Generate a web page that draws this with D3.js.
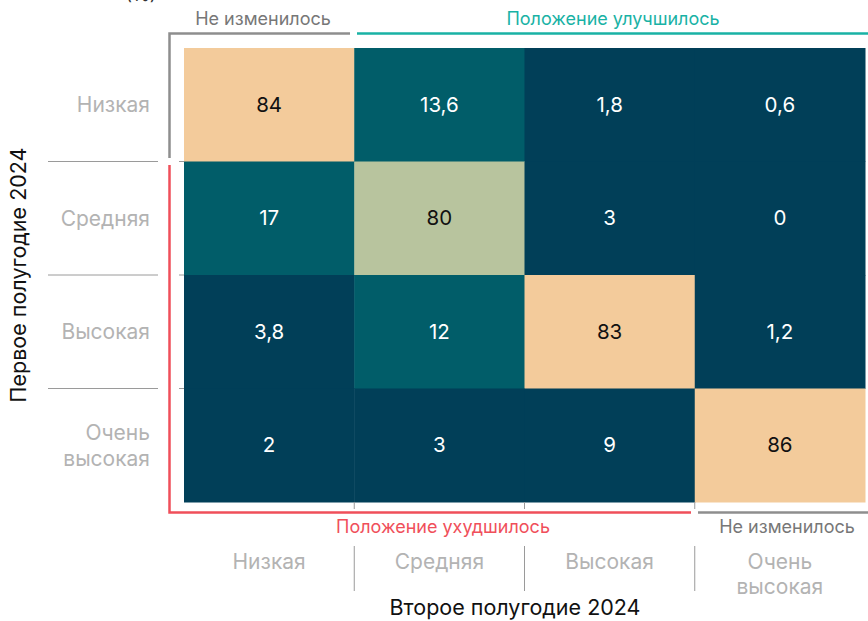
<!DOCTYPE html>
<html><head><meta charset="utf-8">
<script src="https://cdn.jsdelivr.net/npm/d3@7"></script>
<style>
body{margin:0;background:#fff;}
svg{display:block;font-family:Inter,"Noto Sans",sans-serif;}
</style></head>
<body><svg id="c" width="868" height="621"></svg>
<script>
const rows = ["Низкая","Средняя","Высокая","Очень высокая"];
const cols = ["Низкая","Средняя","Высокая","Очень высокая"];
const values = [
  [84, 13.6, 1.8, 0.6],
  [17, 80, 3, 0],
  [3.8, 12, 83, 1.2],
  [2, 3, 9, 86]
];
const xTitle = "Второе полугодие 2024";
const yTitle = "Первое полугодие 2024";
const unitLabel = "(%)";

const svg = d3.select("#c");
const x = d3.scaleBand().domain(cols).range([184, 865]);
const y = d3.scaleBand().domain(rows).range([48, 502]);
const color = d3.scaleThreshold().domain([10, 50, 82]).range(["#013f58", "#015d69", "#b8c49e", "#f3cb9b"]);
const fmt = v => String(v).replace(".", ",");

const cells = [];
rows.forEach((r, i) => cols.forEach((c, j) => cells.push({r, c, v: values[i][j]})));

svg.append("text").attr("x", 141).attr("y", 1).attr("font-size", 18).attr("fill", "#333").attr("text-anchor","middle").text(unitLabel);

svg.selectAll("rect.cell").data(cells).join("rect").attr("class","cell")
  .attr("x", d => x(d.c)).attr("y", d => y(d.r))
  .attr("width", x.bandwidth() + 0.5).attr("height", y.bandwidth() + 0.5)
  .attr("fill", d => color(d.v));

svg.selectAll("text.val").data(cells).join("text").attr("class","val")
  .attr("x", d => x(d.c) + x.bandwidth()/2).attr("y", d => y(d.r) + y.bandwidth()/2)
  .attr("dy", "0.35em").attr("text-anchor", "middle").attr("font-size", 20.5)
  .attr("fill", d => d.v >= 50 ? "#111" : "#fff").text(d => fmt(d.v));

// row separators (left)
const gridC = "#9a9a9a";
rows.slice(1).forEach(r => {
  svg.append("line").attr("x1", 48).attr("x2", 158).attr("y1", y(r)).attr("y2", y(r)).attr("stroke", gridC).attr("stroke-width", 1);
  svg.append("line").attr("x1", 179).attr("x2", 184).attr("y1", y(r)).attr("y2", y(r)).attr("stroke", gridC).attr("stroke-width", 1);
});
// column separators (bottom)
cols.slice(1).forEach(c => {
  svg.append("line").attr("x1", x(c)).attr("x2", x(c)).attr("y1", 502).attr("y2", 509).attr("stroke", gridC).attr("stroke-width", 1);
  svg.append("line").attr("x1", x(c)).attr("x2", x(c)).attr("y1", 546).attr("y2", 591).attr("stroke", gridC).attr("stroke-width", 1);
});

// row labels
const lblC = "#b3b3b3";
rows.forEach(r => {
  const parts = r.split(" ");
  const cy = y(r) + y.bandwidth()/2;
  const t = svg.append("text").attr("x", 150).attr("text-anchor","end").attr("font-size", 21).attr("fill", lblC);
  parts.forEach((p, k) => t.append("tspan").attr("x", 150)
    .attr("y", cy + (k - (parts.length-1)/2) * 26).attr("dy","0.35em").text(p));
});
// column labels
cols.forEach(c => {
  const parts = c.split(" ");
  const t = svg.append("text").attr("text-anchor","middle").attr("font-size", 21).attr("fill", lblC);
  parts.forEach((p, k) => t.append("tspan").attr("x", x(c) + x.bandwidth()/2)
    .attr("y", 562 + k*25).attr("dy","0.35em").text(p));
});

// axis titles
svg.append("text").attr("x", 515).attr("y", 607).attr("dy","0.35em")
  .attr("text-anchor","middle").attr("font-size", 21.5).attr("fill","#111").text(xTitle);
svg.append("text").attr("transform","translate(18,275) rotate(-90)").attr("dy","0.35em")
  .attr("text-anchor","middle").attr("font-size", 21.5).attr("fill","#111").text(yTitle);

// brackets
const grayB = "#8e8e8e", tealB = "#19b2a5", redB = "#f04f5a";
svg.append("path").attr("d", `M169.5,158 V33.5 H350`).attr("fill","none").attr("stroke", grayB).attr("stroke-width", 2.5);
svg.append("line").attr("x1", 357).attr("x2", 868).attr("y1", 33.5).attr("y2", 33.5).attr("stroke", tealB).attr("stroke-width", 2.5);
svg.append("path").attr("d", `M169.5,165 V512.5 H691`).attr("fill","none").attr("stroke", redB).attr("stroke-width", 2.5);
svg.append("line").attr("x1", 698).attr("x2", 868).attr("y1", 512.5).attr("y2", 512.5).attr("stroke", grayB).attr("stroke-width", 2.5);

svg.append("text").attr("x", 263).attr("y", 19).attr("dy","0.35em").attr("text-anchor","middle").attr("font-size", 18).attr("fill","#777").text("Не изменилось");
svg.append("text").attr("x", 613).attr("y", 19).attr("dy","0.35em").attr("text-anchor","middle").attr("font-size", 18).attr("fill", tealB).text("Положение улучшилось");
svg.append("text").attr("x", 443).attr("y", 527).attr("dy","0.35em").attr("text-anchor","middle").attr("font-size", 18).attr("fill", redB).text("Положение ухудшилось");
svg.append("text").attr("x", 787).attr("y", 527).attr("dy","0.35em").attr("text-anchor","middle").attr("font-size", 18).attr("fill","#777").text("Не изменилось");
</script></body></html>
